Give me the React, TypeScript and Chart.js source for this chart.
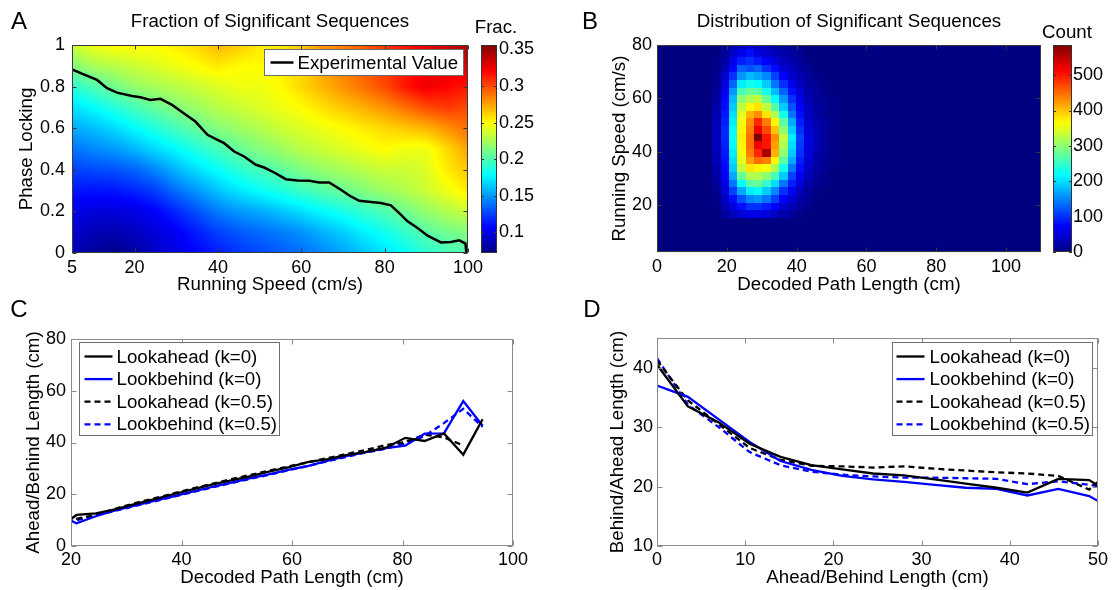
import React, { useEffect, useRef } from 'react';
import { Chart, registerables } from 'chart.js';

Chart.register(...registerables);

const FONT = '"Liberation Sans", Arial, Helvetica, sans-serif';

// ---------------- Panel A: fraction of significant sequences ----------------
const A_SPEED = [5, 10, 15, 20, 25, 30, 35, 40, 45, 50, 55, 60, 65, 70, 75, 80, 85, 90, 95, 100];
const A_PHASE = [0, 0.1, 0.2, 0.3, 0.4, 0.5, 0.6, 0.7, 0.8, 0.9, 1];
const A_FRAC_PL00 = [0.088, 0.08, 0.075, 0.082, 0.092, 0.1, 0.108, 0.115, 0.122, 0.127, 0.133, 0.138, 0.145, 0.153, 0.162, 0.17, 0.18, 0.19, 0.197, 0.2];
const A_FRAC_PL01 = [0.093, 0.087, 0.085, 0.09, 0.097, 0.105, 0.115, 0.125, 0.132, 0.137, 0.142, 0.148, 0.157, 0.165, 0.175, 0.183, 0.193, 0.203, 0.21, 0.215];
const A_FRAC_PL02 = [0.102, 0.098, 0.097, 0.1, 0.107, 0.118, 0.13, 0.142, 0.15, 0.155, 0.162, 0.17, 0.178, 0.185, 0.193, 0.2, 0.21, 0.22, 0.228, 0.235];
const A_FRAC_PL03 = [0.113, 0.112, 0.113, 0.117, 0.125, 0.138, 0.15, 0.162, 0.172, 0.18, 0.187, 0.195, 0.202, 0.208, 0.215, 0.222, 0.228, 0.235, 0.245, 0.255];
const A_FRAC_PL04 = [0.125, 0.128, 0.13, 0.135, 0.145, 0.158, 0.17, 0.18, 0.19, 0.198, 0.205, 0.213, 0.22, 0.225, 0.23, 0.235, 0.235, 0.24, 0.255, 0.265];
const A_FRAC_PL05 = [0.14, 0.145, 0.15, 0.158, 0.168, 0.178, 0.188, 0.198, 0.207, 0.215, 0.222, 0.23, 0.235, 0.24, 0.245, 0.25, 0.245, 0.245, 0.26, 0.275];
const A_FRAC_PL06 = [0.155, 0.16, 0.168, 0.178, 0.188, 0.198, 0.207, 0.215, 0.222, 0.228, 0.235, 0.24, 0.245, 0.25, 0.255, 0.26, 0.265, 0.27, 0.28, 0.29];
const A_FRAC_PL07 = [0.17, 0.178, 0.188, 0.198, 0.207, 0.215, 0.222, 0.23, 0.235, 0.24, 0.245, 0.25, 0.258, 0.265, 0.272, 0.28, 0.29, 0.3, 0.305, 0.3];
const A_FRAC_PL08 = [0.19, 0.2, 0.21, 0.22, 0.225, 0.23, 0.235, 0.24, 0.245, 0.245, 0.25, 0.26, 0.27, 0.28, 0.29, 0.3, 0.315, 0.325, 0.32, 0.315];
const A_FRAC_PL09 = [0.215, 0.225, 0.23, 0.235, 0.24, 0.245, 0.25, 0.255, 0.25, 0.25, 0.255, 0.26, 0.275, 0.285, 0.295, 0.305, 0.315, 0.325, 0.33, 0.33];
const A_FRAC_PL10 = [0.235, 0.245, 0.25, 0.25, 0.25, 0.255, 0.26, 0.27, 0.265, 0.255, 0.255, 0.265, 0.28, 0.285, 0.295, 0.305, 0.315, 0.325, 0.335, 0.345];
const A_FRAC = [A_FRAC_PL00, A_FRAC_PL01, A_FRAC_PL02, A_FRAC_PL03, A_FRAC_PL04, A_FRAC_PL05, A_FRAC_PL06, A_FRAC_PL07, A_FRAC_PL08, A_FRAC_PL09, A_FRAC_PL10];
const A_EXP_SPEED = [5, 7.8, 11, 13.4, 15.8, 19.4, 21.4, 23.8, 26.2, 29, 31.8, 34.6, 37.5, 39.9, 41.5, 43.9, 46.3, 49.1, 51.1, 53.5, 56.3, 59.1, 61.9, 64.3, 66.7, 69.5, 71.9, 73.9, 76.7, 79.1, 81.5, 83.5, 85.5, 87.9, 90.3, 93.5, 95.9, 97.9, 99.4, 99.6];
const A_EXP_PHASE = [0.883, 0.859, 0.832, 0.792, 0.771, 0.755, 0.749, 0.736, 0.741, 0.712, 0.672, 0.632, 0.568, 0.544, 0.528, 0.488, 0.464, 0.424, 0.411, 0.387, 0.355, 0.349, 0.347, 0.339, 0.339, 0.304, 0.272, 0.251, 0.245, 0.24, 0.229, 0.192, 0.152, 0.12, 0.083, 0.051, 0.053, 0.061, 0.045, 0.0];
const A_X_TICKS = [5, 20, 40, 60, 80, 100];
const A_Y_TICKS = [0, 0.2, 0.4, 0.6, 0.8, 1];
const A_CB_TICKS = [0.1, 0.15, 0.2, 0.25, 0.3, 0.35];
const A_CB_MIN = 0.072;
const A_CB_MAX = 0.356;

// ---------------- Panel B: distribution of significant sequences ----------------
const B_PATH_BINS = [17.0, 19.4, 21.8, 24.2, 26.6, 29.0, 31.4, 33.8, 36.2, 38.6, 41.0, 43.4, 45.8, 48.2, 50.6];
const B_SPEED_BINS = [79.9, 77.0, 74.1, 71.3, 68.4, 65.5, 62.7, 59.8, 56.9, 54.0, 51.2, 48.3, 45.4, 42.6, 39.7, 36.8, 34.0, 31.1, 28.2, 25.3, 22.5, 19.6, 16.7];
const B_COUNT_R00 = [0, 10, 25, 35, 50, 40, 30, 20, 15, 10, 5, 0, 0, 0, 0];
const B_COUNT_R01 = [0, 15, 40, 60, 80, 55, 45, 30, 25, 15, 10, 0, 0, 0, 0];
const B_COUNT_R02 = [5, 20, 60, 90, 100, 85, 70, 50, 35, 25, 15, 5, 0, 0, 0];
const B_COUNT_R03 = [5, 30, 75, 130, 120, 130, 100, 80, 50, 35, 20, 10, 0, 0, 0];
const B_COUNT_R04 = [10, 45, 100, 160, 180, 170, 150, 110, 70, 45, 30, 15, 5, 0, 0];
const B_COUNT_R05 = [10, 55, 130, 210, 230, 220, 190, 140, 100, 60, 40, 20, 10, 5, 0];
const B_COUNT_R06 = [15, 65, 160, 260, 280, 270, 230, 180, 130, 80, 50, 25, 15, 5, 0];
const B_COUNT_R07 = [20, 75, 180, 300, 320, 330, 280, 220, 160, 100, 60, 30, 15, 10, 5];
const B_COUNT_R08 = [25, 80, 190, 330, 370, 380, 330, 270, 190, 120, 70, 35, 20, 10, 5];
const B_COUNT_R09 = [30, 85, 200, 350, 410, 430, 380, 320, 230, 140, 80, 40, 20, 10, 5];
const B_COUNT_R10 = [30, 90, 210, 360, 430, 490, 440, 370, 270, 170, 90, 45, 25, 15, 5];
const B_COUNT_R11 = [35, 95, 220, 370, 440, 520, 470, 400, 300, 190, 100, 50, 30, 15, 5];
const B_COUNT_R12 = [35, 95, 225, 375, 450, 585, 500, 430, 330, 210, 110, 55, 30, 15, 5];
const B_COUNT_R13 = [35, 90, 220, 370, 450, 520, 500, 420, 320, 200, 105, 55, 30, 15, 5];
const B_COUNT_R14 = [30, 85, 210, 360, 440, 490, 560, 410, 300, 190, 100, 50, 25, 15, 5];
const B_COUNT_R15 = [30, 80, 200, 350, 420, 450, 440, 370, 270, 170, 90, 45, 25, 10, 5];
const B_COUNT_R16 = [25, 75, 190, 330, 380, 370, 360, 320, 230, 140, 80, 40, 20, 10, 0];
const B_COUNT_R17 = [20, 70, 170, 280, 320, 320, 300, 260, 190, 110, 65, 30, 15, 5, 0];
const B_COUNT_R18 = [15, 60, 140, 220, 270, 280, 250, 200, 140, 90, 50, 25, 10, 5, 0];
const B_COUNT_R19 = [10, 50, 110, 170, 210, 220, 190, 150, 100, 65, 35, 15, 5, 0, 0];
const B_COUNT_R20 = [5, 40, 80, 120, 150, 160, 140, 110, 70, 45, 25, 10, 0, 0, 0];
const B_COUNT_R21 = [0, 30, 55, 80, 100, 100, 90, 70, 45, 30, 15, 5, 0, 0, 0];
const B_COUNT_R22 = [0, 20, 35, 50, 60, 60, 55, 40, 25, 15, 5, 0, 0, 0, 0];
const B_COUNTS = [B_COUNT_R00, B_COUNT_R01, B_COUNT_R02, B_COUNT_R03, B_COUNT_R04, B_COUNT_R05, B_COUNT_R06, B_COUNT_R07, B_COUNT_R08, B_COUNT_R09, B_COUNT_R10, B_COUNT_R11, B_COUNT_R12, B_COUNT_R13, B_COUNT_R14, B_COUNT_R15, B_COUNT_R16, B_COUNT_R17, B_COUNT_R18, B_COUNT_R19, B_COUNT_R20, B_COUNT_R21, B_COUNT_R22];
const B_X_TICKS = [0, 20, 40, 60, 80, 100];
const B_Y_TICKS = [20, 40, 60, 80];
const B_CB_TICKS = [0, 100, 200, 300, 400, 500];
const B_CB_MIN = 0;
const B_CB_MAX = 585;

// ---------------- Panel C ----------------
const C_PATH = [17.5, 21, 24.5, 28, 31.5, 35, 38.5, 42, 45.5, 49, 52.5, 56, 59.5, 63, 66.5, 70, 73.5, 77, 80.5, 84, 87.5, 91, 94.5];
const C_LOOKAHEAD_K0 = [6.5, 12.0, 12.6, 14.2, 16.2, 18.0, 20.0, 21.9, 23.7, 25.4, 27.0, 28.8, 30.5, 32.5, 33.6, 35.2, 36.4, 38.0, 41.8, 40.6, 43.5, 35.3, 49.0];
const C_LOOKBEHIND_K0 = [12.0, 8.8, 11.5, 13.8, 15.6, 17.4, 19.2, 21.0, 22.8, 24.5, 26.2, 27.8, 29.5, 31.0, 33.0, 34.8, 36.4, 37.8, 38.8, 43.4, 43.5, 56.0, 46.5];
const C_LOOKAHEAD_K05 = [8.0, 10.5, 12.0, 14.4, 16.5, 18.4, 20.3, 22.2, 24.0, 25.8, 27.5, 29.2, 30.8, 32.4, 34.0, 35.6, 37.2, 39.0, 40.2, 43.0, 42.0, 38.8, null];
const C_LOOKBEHIND_K05 = [9.0, 10.0, 11.8, 13.6, 15.4, 17.2, 19.0, 20.8, 22.6, 24.3, 26.0, 27.6, 29.3, 31.0, 32.8, 34.5, 36.2, 37.6, 39.6, 42.5, 47.5, 53.0, 46.0];
const C_X_TICKS = [20, 40, 60, 80, 100];
const C_Y_TICKS = [0, 20, 40, 60, 80];

// ---------------- Panel D ----------------
const D_LENGTH = [0, 3.5, 7, 10.5, 14, 17.5, 21, 24.5, 28, 31.5, 35, 38.5, 42, 45.5, 49, 52.5];
const D_LOOKAHEAD_K0 = [40.5, 33.5, 30.8, 27.2, 25.0, 23.6, 22.9, 22.2, 21.9, 21.2, 20.5, 19.8, 19.0, 21.3, 21.1, 17.8];
const D_LOOKBEHIND_K0 = [37.0, 35.1, 31.3, 27.5, 24.3, 22.8, 21.8, 21.2, 20.8, 20.3, 19.8, 19.6, 18.5, 19.6, 18.4, 15.5];
const D_LOOKAHEAD_K05 = [41.2, 34.5, 30.5, 26.5, 24.5, 23.5, 23.4, 23.2, 23.4, 23.0, 22.7, 22.4, 22.2, 21.8, 19.5, 24.0];
const D_LOOKBEHIND_K05 = [41.6, 33.8, 30.0, 25.8, 23.6, 22.5, 22.0, 21.7, 21.5, 21.5, 21.4, 21.3, 20.4, 20.9, 20.3, 19.5];
const D_X_TICKS = [0, 10, 20, 30, 40, 50];
const D_Y_TICKS = [10, 20, 30, 40];

const SERIES_LABELS = ['Lookahead (k=0)', 'Lookbehind (k=0)', 'Lookahead (k=0.5)', 'Lookbehind (k=0.5)'];

// ---------------- helpers ----------------
const clamp01 = (v: number) => Math.min(1, Math.max(0, v));
function jet(t: number): [number, number, number] {
  const v = clamp01(t);
  const r = clamp01(Math.min(4 * v - 1.5, -4 * v + 4.5));
  const g = clamp01(Math.min(4 * v - 0.5, -4 * v + 3.5));
  const b = clamp01(Math.min(4 * v + 0.5, -4 * v + 2.5));
  return [Math.round(r * 255), Math.round(g * 255), Math.round(b * 255)];
}
const jetCss = (t: number) => {
  const [r, g, b] = jet(t);
  return `rgb(${r},${g},${b})`;
};

function edges(centers: number[]) {
  const n = centers.length;
  const e: number[] = [centers[0] - (centers[1] - centers[0]) / 2];
  for (let i = 1; i < n; i++) e.push((centers[i - 1] + centers[i]) / 2);
  e.push(centers[n - 1] + (centers[n - 1] - centers[n - 2]) / 2);
  return e;
}

function locate(arr: number[], v: number) {
  if (v <= arr[0]) return { i: 0, f: 0 };
  const n = arr.length;
  if (v >= arr[n - 1]) return { i: n - 2, f: 1 };
  let i = 0;
  while (i < n - 2 && v > arr[i + 1]) i++;
  return { i, f: (v - arr[i]) / (arr[i + 1] - arr[i]) };
}

function interpA(x: number, y: number) {
  const a = locate(A_SPEED, x);
  const b = locate(A_PHASE, y);
  const r0 = A_FRAC[b.i], r1 = A_FRAC[b.i + 1];
  const v0 = r0[a.i] * (1 - a.f) + r0[a.i + 1] * a.f;
  const v1 = r1[a.i] * (1 - a.f) + r1[a.i + 1] * a.f;
  return v0 * (1 - b.f) + v1 * b.f;
}

function axis(min: number, max: number, ticks: number[], position: string, size: number, padding: number) {
  const horizontal = position === 'bottom';
  return {
    type: 'linear',
    position,
    min,
    max,
    grid: { display: false, drawTicks: false, tickLength: 0 },
    border: { display: false },
    ticks: {
      font: { family: FONT, size: 18 },
      color: '#000',
      padding,
      autoSkip: false,
      maxRotation: 0,
      minRotation: 0,
      callback: (v: number) => String(v),
    },
    afterBuildTicks: (s: any) => {
      s.ticks = ticks.map((v) => ({ value: v }));
    },
    afterFit: (s: any) => {
      if (horizontal) s.height = size;
      else s.width = size;
    },
  };
}

function framePlugin(color: string, len: number) {
  return {
    id: 'frame',
    afterDatasetsDraw(chart: any) {
      const { ctx, chartArea: ca, scales } = chart;
      const L = Math.round(ca.left) + 0.5, R = Math.round(ca.right) - 0.5;
      const T = Math.round(ca.top) + 0.5, B = Math.round(ca.bottom) - 0.5;
      ctx.save();
      ctx.strokeStyle = color;
      ctx.lineWidth = 1;
      ctx.strokeRect(L, T, R - L, B - T);
      ctx.beginPath();
      scales.x.ticks.forEach((t: any) => {
        const px = Math.round(scales.x.getPixelForValue(t.value)) + 0.5;
        ctx.moveTo(px, B); ctx.lineTo(px, B - len);
        ctx.moveTo(px, T); ctx.lineTo(px, T + len);
      });
      scales.y.ticks.forEach((t: any) => {
        const py = Math.round(scales.y.getPixelForValue(t.value)) + 0.5;
        ctx.moveTo(L, py); ctx.lineTo(L + len, py);
        ctx.moveTo(R, py); ctx.lineTo(R - len, py);
      });
      ctx.stroke();
      ctx.restore();
    },
  };
}

function colorbarPlugin(min: number, max: number, off0: number, off1: number) {
  return {
    id: 'cbar',
    afterDraw(chart: any) {
      const { ctx, chartArea: ca, scales } = chart;
      const cb = scales.cb;
      const x0 = Math.round(ca.right + off0), x1 = Math.round(ca.right + off1);
      const top = Math.round(ca.top), bot = Math.round(ca.bottom);
      ctx.save();
      for (let y = top; y < bot; y++) {
        const v = cb.getValueForPixel(y + 0.5);
        ctx.fillStyle = jetCss((v - min) / (max - min));
        ctx.fillRect(x0, y, x1 - x0, 1);
      }
      ctx.strokeStyle = '#333';
      ctx.lineWidth = 1;
      ctx.strokeRect(x0 + 0.5, top + 0.5, x1 - x0 - 1, bot - top - 1);
      ctx.beginPath();
      cb.ticks.forEach((t: any) => {
        const py = Math.round(cb.getPixelForValue(t.value)) + 0.5;
        ctx.moveTo(x0, py); ctx.lineTo(x0 + 3, py);
        ctx.moveTo(x1, py); ctx.lineTo(x1 - 3, py);
      });
      ctx.stroke();
      ctx.restore();
    },
  };
}

type Texts = {
  letter: string; letterX: number; letterY: number;
  title?: string; titleY?: number;
  xTitle: string; xTitleY: number;
  yTitle: string; yTitleX: number;
  cbTitle?: string; cbTitleX?: number; cbTitleY?: number;
};

function textPlugin(t: Texts) {
  return {
    id: 'texts',
    afterDraw(chart: any) {
      const { ctx, chartArea: ca } = chart;
      ctx.save();
      ctx.fillStyle = '#000';
      ctx.textAlign = 'center';
      ctx.textBaseline = 'middle';
      ctx.font = `24px ${FONT}`;
      ctx.fillText(t.letter, t.letterX, t.letterY);
      ctx.font = `18.7px ${FONT}`;
      const cx = (ca.left + ca.right) / 2;
      if (t.title) ctx.fillText(t.title, cx, t.titleY);
      ctx.fillText(t.xTitle, cx, t.xTitleY);
      if (t.cbTitle) ctx.fillText(t.cbTitle, t.cbTitleX, t.cbTitleY);
      ctx.translate(t.yTitleX, (ca.top + ca.bottom) / 2);
      ctx.rotate(-Math.PI / 2);
      ctx.fillText(t.yTitle, 0, 0);
      ctx.restore();
    },
  };
}

type LegendCfg = { anchor: 'left' | 'right'; dx: number; dy: number; w: number; h: number; row0: number; rowStep: number; s0: number; s1: number; tx: number };

function legendPlugin(cfg: LegendCfg) {
  return {
    id: 'legendBox',
    afterDraw(chart: any) {
      const { ctx, chartArea: ca } = chart;
      const bx = Math.round(cfg.anchor === 'left' ? ca.left + cfg.dx : ca.right - cfg.dx - cfg.w) + 0.5;
      const by = Math.round(ca.top + cfg.dy) + 0.5;
      ctx.save();
      ctx.fillStyle = '#fff';
      ctx.fillRect(bx, by, cfg.w, cfg.h);
      ctx.strokeStyle = '#6e6e6e';
      ctx.lineWidth = 1;
      ctx.strokeRect(bx, by, cfg.w, cfg.h);
      ctx.font = `18.7px ${FONT}`;
      ctx.textAlign = 'left';
      ctx.textBaseline = 'middle';
      chart.data.datasets.forEach((ds: any, i: number) => {
        if (!ds.label) return;
        const y = by + cfg.row0 + i * cfg.rowStep;
        ctx.strokeStyle = ds.borderColor;
        ctx.lineWidth = ds.borderWidth;
        ctx.setLineDash(ds.borderDash || []);
        ctx.beginPath();
        ctx.moveTo(bx + cfg.s0, y);
        ctx.lineTo(bx + cfg.s1, y);
        ctx.stroke();
        ctx.setLineDash([]);
        ctx.fillStyle = '#000';
        ctx.fillText(ds.label, bx + cfg.tx, y + 1);
      });
      ctx.restore();
    },
  };
}

const heatAPlugin = {
  id: 'heatA',
  beforeDatasetsDraw(chart: any) {
    const { ctx, chartArea: ca, scales } = chart;
    const L = Math.round(ca.left), T = Math.round(ca.top);
    const W = Math.round(ca.right) - L, H = Math.round(ca.bottom) - T;
    const img = ctx.createImageData(W, H);
    for (let j = 0; j < H; j++) {
      const yv = scales.y.getValueForPixel(T + j + 0.5);
      for (let i = 0; i < W; i++) {
        const xv = scales.x.getValueForPixel(L + i + 0.5);
        const v = interpA(xv, yv);
        const [r, g, b] = jet((v - A_CB_MIN) / (A_CB_MAX - A_CB_MIN));
        const k = (j * W + i) * 4;
        img.data[k] = r; img.data[k + 1] = g; img.data[k + 2] = b; img.data[k + 3] = 255;
      }
    }
    ctx.putImageData(img, L, T);
  },
};

const heatBPlugin = {
  id: 'heatB',
  beforeDatasetsDraw(chart: any) {
    const { ctx, chartArea: ca, scales } = chart;
    const xs = scales.x, ys = scales.y;
    ctx.save();
    ctx.beginPath();
    ctx.rect(ca.left, ca.top, ca.right - ca.left, ca.bottom - ca.top);
    ctx.clip();
    ctx.fillStyle = jetCss(0);
    ctx.fillRect(ca.left, ca.top, ca.right - ca.left, ca.bottom - ca.top);
    const xe = edges(B_PATH_BINS), ye = edges(B_SPEED_BINS);
    B_COUNTS.forEach((row, r) => {
      row.forEach((v, c) => {
        const xa = Math.round(xs.getPixelForValue(xe[c]));
        const xb = Math.round(xs.getPixelForValue(xe[c + 1]));
        const ya = Math.round(ys.getPixelForValue(ye[r]));
        const yb = Math.round(ys.getPixelForValue(ye[r + 1]));
        ctx.fillStyle = jetCss((v - B_CB_MIN) / (B_CB_MAX - B_CB_MIN));
        ctx.fillRect(Math.min(xa, xb), Math.min(ya, yb), Math.abs(xb - xa), Math.abs(yb - ya));
      });
    });
    ctx.restore();
  },
};

const baseOptions = (padding: any, scales: any) => ({
  animation: false,
  responsive: false,
  devicePixelRatio: 1,
  events: [],
  layout: { padding },
  plugins: { legend: { display: false }, tooltip: { enabled: false } },
  scales,
});

const pts = (xs: number[], ys: (number | null)[]) => xs.map((x, i) => ({ x, y: ys[i] }));

const lineDs = (label: string, xs: number[], ys: (number | null)[], color: string, dash: number[] | undefined) => ({
  label,
  data: pts(xs, ys),
  showLine: true,
  borderColor: color,
  backgroundColor: color,
  borderWidth: 2.3,
  borderDash: dash,
  pointRadius: 0,
  spanGaps: false,
  fill: false,
});

function configA() {
  return {
    type: 'scatter',
    data: {
      datasets: [{
        label: 'Experimental Value',
        data: pts(A_EXP_SPEED, A_EXP_PHASE),
        showLine: true,
        borderColor: '#000',
        borderWidth: 2.5,
        pointRadius: 0,
        fill: false,
      }],
    },
    options: baseOptions({ top: 45, right: 0, bottom: 0, left: 0 }, {
      x: axis(5, 100, A_X_TICKS, 'bottom', 42, 4),
      y: axis(0, 1, A_Y_TICKS, 'left', 72, 7),
      cb: axis(A_CB_MIN, A_CB_MAX, A_CB_TICKS, 'right', 90, 31),
    }),
    plugins: [
      heatAPlugin,
      framePlugin('#3a3a3a', 4),
      colorbarPlugin(A_CB_MIN, A_CB_MAX, 13, 29),
      textPlugin({ letter: 'A', letterX: 19, letterY: 22, title: 'Fraction of Significant Sequences', titleY: 22, xTitle: 'Running Speed (cm/s)', xTitleY: 285, yTitle: 'Phase Locking', yTitleX: 27, cbTitle: 'Frac.', cbTitleX: 496, cbTitleY: 28 }),
      legendPlugin({ anchor: 'right', dx: 5, dy: 4, w: 199, h: 26, row0: 13, rowStep: 0, s0: 6, s1: 29, tx: 33 }),
    ],
  };
}

function configB() {
  return {
    type: 'scatter',
    data: { datasets: [{ data: [], pointRadius: 0 }] },
    options: baseOptions({ top: 45, right: 0, bottom: 0, left: 0 }, {
      x: axis(0, 110, B_X_TICKS, 'bottom', 41, 4),
      y: axis(2.5, 80, B_Y_TICKS, 'left', 99, 5),
      cb: axis(B_CB_MIN, B_CB_MAX, B_CB_TICKS, 'right', 75, 32),
    }),
    plugins: [
      heatBPlugin,
      framePlugin('#3a3a3a', 4),
      colorbarPlugin(B_CB_MIN, B_CB_MAX, 12, 31),
      textPlugin({ letter: 'B', letterX: 32, letterY: 22, title: 'Distribution of Significant Sequences', titleY: 22, xTitle: 'Decoded Path Length (cm)', xTitleY: 285, yTitle: 'Running Speed (cm/s)', yTitleX: 62, cbTitle: 'Count', cbTitleX: 509, cbTitleY: 33 }),
    ],
  };
}

function configC() {
  return {
    type: 'scatter',
    data: {
      datasets: [
        lineDs(SERIES_LABELS[0], C_PATH, C_LOOKAHEAD_K0, '#000000', undefined),
        lineDs(SERIES_LABELS[1], C_PATH, C_LOOKBEHIND_K0, '#0000ff', undefined),
        lineDs(SERIES_LABELS[2], C_PATH, C_LOOKAHEAD_K05, '#000000', [6, 4]),
        lineDs(SERIES_LABELS[3], C_PATH, C_LOOKBEHIND_K05, '#0000ff', [6, 4]),
      ],
    },
    options: baseOptions({ top: 44, right: 45, bottom: 0, left: 0 }, {
      x: axis(20, 100, C_X_TICKS, 'bottom', 44, 3),
      y: axis(0, 80, C_Y_TICKS, 'left', 71, 5),
    }),
    plugins: [
      framePlugin('#8a8a8a', 5),
      textPlugin({ letter: 'C', letterX: 19, letterY: 15, xTitle: 'Decoded Path Length (cm)', xTitleY: 283, yTitle: 'Ahead/Behind Length (cm)', yTitleX: 34 }),
      legendPlugin({ anchor: 'left', dx: 8, dy: 3, w: 200, h: 93, row0: 14, rowStep: 22.6, s0: 5, s1: 33, tx: 37 }),
    ],
  };
}

function configD() {
  return {
    type: 'scatter',
    data: {
      datasets: [
        lineDs(SERIES_LABELS[0], D_LENGTH, D_LOOKAHEAD_K0, '#000000', undefined),
        lineDs(SERIES_LABELS[1], D_LENGTH, D_LOOKBEHIND_K0, '#0000ff', undefined),
        lineDs(SERIES_LABELS[2], D_LENGTH, D_LOOKAHEAD_K05, '#000000', [6, 4]),
        lineDs(SERIES_LABELS[3], D_LENGTH, D_LOOKBEHIND_K05, '#0000ff', [6, 4]),
      ],
    },
    options: baseOptions({ top: 43, right: 18, bottom: 0, left: 0 }, {
      x: axis(0, 50, D_X_TICKS, 'bottom', 44, 3),
      y: axis(10, 45, D_Y_TICKS, 'left', 99, 4),
    }),
    plugins: [
      framePlugin('#8a8a8a', 5),
      textPlugin({ letter: 'D', letterX: 34, letterY: 15, xTitle: 'Ahead/Behind Length (cm)', xTitleY: 283, yTitle: 'Behind/Ahead Length (cm)', yTitleX: 60 }),
      legendPlugin({ anchor: 'right', dx: 6, dy: 4, w: 200, h: 93, row0: 14, rowStep: 22.6, s0: 4, s1: 32, tx: 37 }),
    ],
  };
}

function Panel({ left, top, make }: { left: number; top: number; make: () => any }) {
  const ref = useRef<HTMLCanvasElement>(null);
  useEffect(() => {
    const chart = new Chart(ref.current as HTMLCanvasElement, make());
    return () => chart.destroy();
  }, []);
  return (
    <canvas
      ref={ref}
      width={558}
      height={295}
      style={{ position: 'absolute', left, top, width: 558, height: 295 }}
    />
  );
}

export default function App() {
  return (
    <div style={{ position: 'absolute', left: 0, top: 0, width: 1116, height: 590, background: '#ffffff', overflow: 'hidden' }}>
      <Panel left={0} top={0} make={configA} />
      <Panel left={558} top={0} make={configB} />
      <Panel left={0} top={295} make={configC} />
      <Panel left={558} top={295} make={configD} />
    </div>
  );
}
